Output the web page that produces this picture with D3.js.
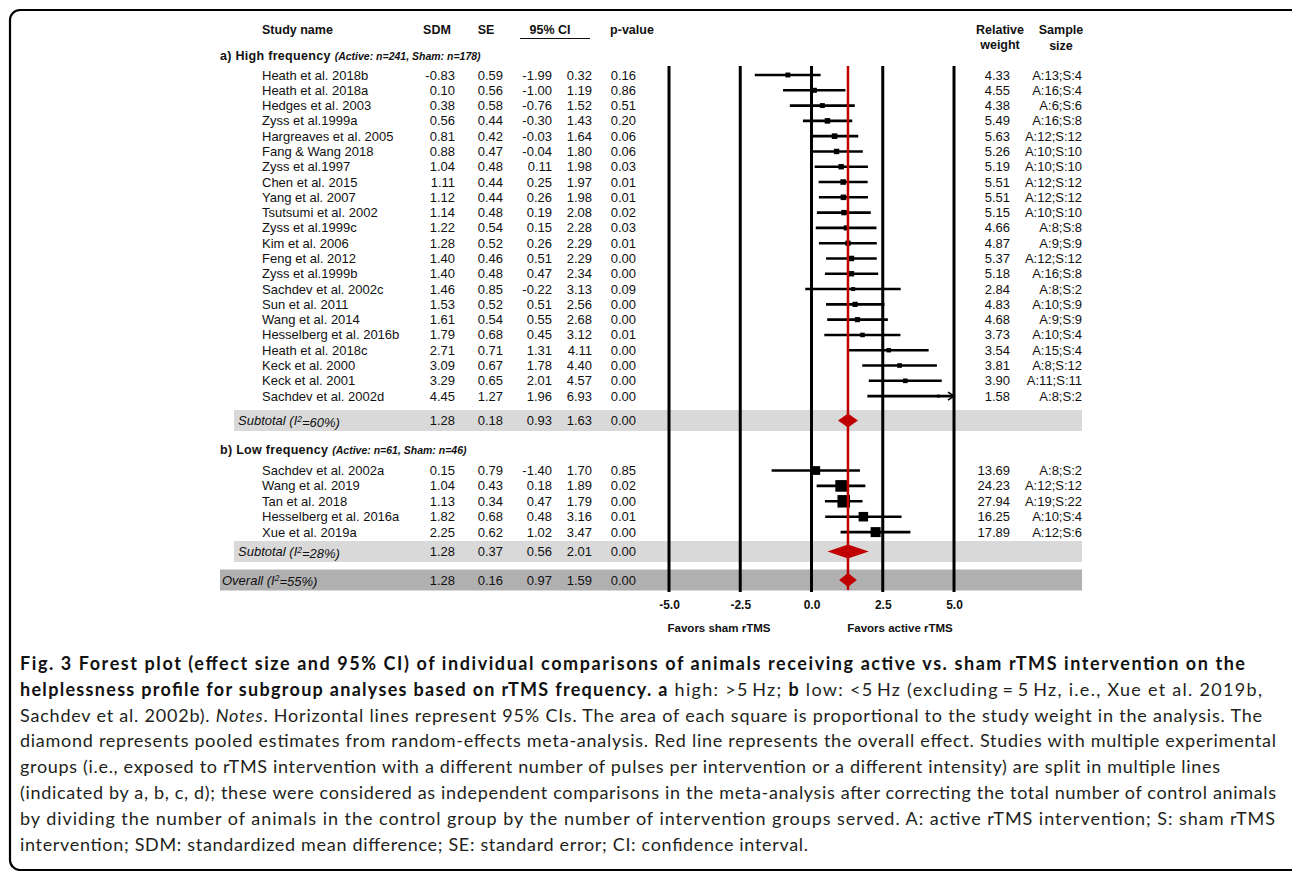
<!DOCTYPE html>
<html>
<head>
<meta charset="utf-8">
<script src="https://cdn.jsdelivr.net/npm/d3@7.9.0/dist/d3.min.js"></script>
<style>
  body { margin: 0; background: #fff; }
  svg { display: block; }
  .tbl { font-family: "Liberation Sans", Arial, sans-serif; font-size: 13px; fill: #111; }
  .hdr { font-family: "Liberation Sans", Arial, sans-serif; font-size: 12.5px; font-weight: bold; fill: #111; }
  .cap { font-family: Lato, sans-serif; font-size: 18px; fill: #231f20; }
</style>
</head>
<body>
<svg id="chart" width="1292" height="871"></svg>
<script>
// high frequency studies
const highStudies = ['Heath et al. 2018b', 'Heath et al. 2018a', 'Hedges et al. 2003', 'Zyss et al.1999a',
  'Hargreaves et al. 2005', 'Fang & Wang 2018', 'Zyss et al.1997', 'Chen et al. 2015', 'Yang et al. 2007',
  'Tsutsumi et al. 2002', 'Zyss et al.1999c', 'Kim et al. 2006', 'Feng et al. 2012', 'Zyss et al.1999b',
  'Sachdev et al. 2002c', 'Sun et al. 2011', 'Wang et al. 2014', 'Hesselberg et al. 2016b', 'Heath et al. 2018c',
  'Keck et al. 2000', 'Keck et al. 2001', 'Sachdev et al. 2002d'];
const highSdm = [-0.83, 0.10, 0.38, 0.56, 0.81, 0.88, 1.04, 1.11, 1.12, 1.14, 1.22, 1.28, 1.40, 1.40, 1.46, 1.53, 1.61, 1.79, 2.71, 3.09, 3.29, 4.45];
const highSe = [0.59, 0.56, 0.58, 0.44, 0.42, 0.47, 0.48, 0.44, 0.44, 0.48, 0.54, 0.52, 0.46, 0.48, 0.85, 0.52, 0.54, 0.68, 0.71, 0.67, 0.65, 1.27];
const highLo = [-1.99, -1.00, -0.76, -0.30, -0.03, -0.04, 0.11, 0.25, 0.26, 0.19, 0.15, 0.26, 0.51, 0.47, -0.22, 0.51, 0.55, 0.45, 1.31, 1.78, 2.01, 1.96];
const highHi = [0.32, 1.19, 1.52, 1.43, 1.64, 1.80, 1.98, 1.97, 1.98, 2.08, 2.28, 2.29, 2.29, 2.34, 3.13, 2.56, 2.68, 3.12, 4.11, 4.40, 4.57, 6.93];
const highP = [0.16, 0.86, 0.51, 0.20, 0.06, 0.06, 0.03, 0.01, 0.01, 0.02, 0.03, 0.01, 0.00, 0.00, 0.09, 0.00, 0.00, 0.01, 0.00, 0.00, 0.00, 0.00];
const highWeight = [4.33, 4.55, 4.38, 5.49, 5.63, 5.26, 5.19, 5.51, 5.51, 5.15, 4.66, 4.87, 5.37, 5.18, 2.84, 4.83, 4.68, 3.73, 3.54, 3.81, 3.90, 1.58];
const highSample = ['A:13;S:4', 'A:16;S:4', 'A:6;S:6', 'A:16;S:8', 'A:12;S:12', 'A:10;S:10', 'A:10;S:10', 'A:12;S:12',
  'A:12;S:12', 'A:10;S:10', 'A:8;S:8', 'A:9;S:9', 'A:12;S:12', 'A:16;S:8', 'A:8;S:2', 'A:10;S:9', 'A:9;S:9',
  'A:10;S:4', 'A:15;S:4', 'A:8;S:12', 'A:11;S:11', 'A:8;S:2'];

// low frequency studies
const lowStudies = ['Sachdev et al. 2002a', 'Wang et al. 2019', 'Tan et al. 2018', 'Hesselberg et al. 2016a', 'Xue et al. 2019a'];
const lowSdm = [0.15, 1.04, 1.13, 1.82, 2.25];
const lowSe = [0.79, 0.43, 0.34, 0.68, 0.62];
const lowLo = [-1.40, 0.18, 0.47, 0.48, 1.02];
const lowHi = [1.70, 1.89, 1.79, 3.16, 3.47];
const lowP = [0.85, 0.02, 0.00, 0.01, 0.00];
const lowWeight = [13.69, 24.23, 27.94, 16.25, 17.89];
const lowSample = ['A:8;S:2', 'A:12;S:12', 'A:19;S:22', 'A:10;S:4', 'A:12;S:6'];

// pooled estimates: subtotal a, subtotal b, overall
const pooledI2 = ['60%', '28%', '55%'];
const pooledSdm = [1.28, 1.28, 1.28];
const pooledSe = [0.18, 0.37, 0.16];
const pooledLo = [0.93, 0.56, 0.97];
const pooledHi = [1.63, 2.01, 1.59];
const pooledP = [0.00, 0.00, 0.00];

const xTicks = [-5, -2.5, 0, 2.5, 5];
const overallEffect = 1.28;

const svg = d3.select('#chart');
const x = d3.scaleLinear().domain([-5, 5]).range([669, 954]);
const boxSize = d3.scaleSqrt().domain([0, 28]).range([0, 12.5]);
const f2 = v => v.toFixed(2);

// frame
svg.append('rect')
  .attr('x', 10).attr('y', 10).attr('width', 1290).attr('height', 860)
  .attr('rx', 10).attr('fill', 'none').attr('stroke', '#000').attr('stroke-width', 2.2);

const highRows = highStudies.map((name, i) => ({
  name, sdm: highSdm[i], se: highSe[i], lo: highLo[i], hi: highHi[i], p: highP[i],
  w: highWeight[i], n: highSample[i], y: 75 + i * 15.29
}));
const lowRows = lowStudies.map((name, i) => ({
  name, sdm: lowSdm[i], se: lowSe[i], lo: lowLo[i], hi: lowHi[i], p: lowP[i],
  w: lowWeight[i], n: lowSample[i], y: 470.5 + i * 15.4
}));
const pooled = pooledI2.map((i2, i) => ({
  label: i === 2 ? 'Overall' : 'Subtotal', i2, sdm: pooledSdm[i], se: pooledSe[i],
  lo: pooledLo[i], hi: pooledHi[i], p: pooledP[i],
  y: [420.5, 551.5, 580][i], x0: i === 2 ? 220 : 234, fill: i === 2 ? '#b1b0b1' : '#d9d9d9',
  textX: i === 2 ? 222 : 238, halfH: 10.5
}));

// bands
svg.selectAll('rect.band').data(pooled).join('rect')
  .attr('class', 'band')
  .attr('x', d => d.x0).attr('y', d => d.y - d.halfH)
  .attr('width', d => 1082 - d.x0).attr('height', d => d.halfH * 2)
  .attr('fill', d => d.fill);

// headers
const hdr = svg.append('g').attr('class', 'hdr');
hdr.append('text').attr('x', 262).attr('y', 34).text('Study name');
hdr.append('text').attr('x', 437).attr('y', 34).attr('text-anchor', 'middle').text('SDM');
hdr.append('text').attr('x', 486).attr('y', 34).attr('text-anchor', 'middle').text('SE');
hdr.append('text').attr('x', 550).attr('y', 34).attr('text-anchor', 'middle').text('95% CI');
hdr.append('line').attr('x1', 520).attr('x2', 590).attr('y1', 38.5).attr('y2', 38.5)
  .attr('stroke', '#111').attr('stroke-width', 1.2);
hdr.append('text').attr('x', 632).attr('y', 34).attr('text-anchor', 'middle').text('p-value');
hdr.append('text').attr('x', 1000).attr('y', 34).attr('text-anchor', 'middle').text('Relative');
hdr.append('text').attr('x', 1000).attr('y', 49).attr('text-anchor', 'middle').text('weight');
hdr.append('text').attr('x', 1061).attr('y', 34).attr('text-anchor', 'middle').text('Sample');
hdr.append('text').attr('x', 1061).attr('y', 50).attr('text-anchor', 'middle').text('size');

function section(label, note, y) {
  const t = svg.append('text').attr('class', 'hdr').attr('x', 220).attr('y', y).attr('dy', '0.35em')
    .style('font-size', '12.5px').style('letter-spacing', '0.3px');
  t.append('tspan').text(label);
  t.append('tspan').attr('dx', 4).style('font-size', '10.5px').style('letter-spacing', '0px')
    .style('font-style', 'italic').text(note);
}
section('a) High frequency', '(Active: n=241, Sham: n=178)', 56);
section('b) Low frequency', '(Active: n=61, Sham: n=46)', 450);

// numeric columns
const cols = [
  { x: 455, v: d => f2(d.sdm) },
  { x: 503, v: d => f2(d.se) },
  { x: 552, v: d => f2(d.lo) },
  { x: 592, v: d => f2(d.hi) },
  { x: 636, v: d => f2(d.p) }
];
const studies = highRows.concat(lowRows);
const tbl = svg.append('g').attr('class', 'tbl');
tbl.selectAll('text.name').data(studies).join('text')
  .attr('class', 'name').attr('x', 262).attr('y', d => d.y).attr('dy', '0.35em').text(d => d.name);
cols.forEach(c => {
  tbl.selectAll(null).data(studies.concat(pooled)).join('text')
    .attr('x', c.x).attr('y', d => d.y).attr('dy', '0.35em').attr('text-anchor', 'end').text(c.v);
});
tbl.selectAll('text.w').data(studies).join('text')
  .attr('class', 'w').attr('x', 1010).attr('y', d => d.y).attr('dy', '0.35em')
  .attr('text-anchor', 'end').text(d => f2(d.w));
tbl.selectAll('text.n').data(studies).join('text')
  .attr('class', 'n').attr('x', 1082).attr('y', d => d.y).attr('dy', '0.35em')
  .attr('text-anchor', 'end').text(d => d.n);
const pl = tbl.selectAll('text.pl').data(pooled).join('text')
  .attr('class', 'pl').attr('x', d => d.textX).attr('y', d => d.y).attr('dy', '0.35em')
  .style('font-style', 'italic');
pl.append('tspan').text(d => d.label + ' (I');
pl.append('tspan').attr('dy', '-0.4em').style('font-size', '8.5px').text('2');
pl.append('tspan').attr('dy', '0.4em').text(d => '=' + d.i2 + ')');

// reference lines
svg.append('g').selectAll('line').data(xTicks).join('line')
  .attr('x1', d => x(d)).attr('x2', d => x(d))
  .attr('y1', 66).attr('y2', 592)
  .attr('stroke', '#000').attr('stroke-width', 3);

// CI lines
const ci = svg.append('g');
ci.selectAll('line').data(studies).join('line')
  .attr('x1', d => x(Math.max(d.lo, -5))).attr('x2', d => x(Math.min(d.hi, 5)))
  .attr('y1', d => d.y).attr('y2', d => d.y)
  .attr('stroke', '#000').attr('stroke-width', 2.6);
// arrow for clipped CI
ci.selectAll('path.arrow').data(studies.filter(d => d.hi > 5)).join('path')
  .attr('class', 'arrow')
  .attr('d', d => `M${x(5) - 6},${d.y - 4}L${x(5)},${d.y}L${x(5) - 6},${d.y + 4}`)
  .attr('fill', 'none').attr('stroke', '#000').attr('stroke-width', 1.6);
ci.selectAll('rect').data(studies).join('rect')
  .attr('x', d => x(d.sdm) - boxSize(d.w) / 2)
  .attr('y', d => d.y - boxSize(d.w) / 2)
  .attr('width', d => boxSize(d.w)).attr('height', d => boxSize(d.w))
  .attr('fill', '#000');

// overall effect line
svg.append('line')
  .attr('x1', x(overallEffect)).attr('x2', x(overallEffect))
  .attr('y1', 66).attr('y2', 590)
  .attr('stroke', '#c00000').attr('stroke-width', 2.5);

// diamonds
svg.selectAll('path.dia').data(pooled).join('path')
  .attr('class', 'dia')
  .attr('d', d => `M${x(d.lo)},${d.y}L${x(d.sdm)},${d.y - 7}L${x(d.hi)},${d.y}L${x(d.sdm)},${d.y + 7}Z`)
  .attr('fill', '#c00000');

// axis
const axis = svg.append('g').attr('transform', 'translate(0,598)')
  .call(d3.axisBottom(x).tickValues(xTicks).tickSize(0).tickPadding(2).tickFormat(d => d.toFixed(1)));
axis.select('.domain').remove();
axis.selectAll('text')
  .attr('font-family', '"Liberation Sans", Arial, sans-serif')
  .attr('font-size', '12px').attr('font-weight', 'bold').attr('fill', '#111');

svg.append('text').attr('class', 'hdr').attr('x', 719).attr('y', 632).attr('text-anchor', 'middle')
  .style('font-size', '11.5px').text('Favors sham rTMS');
svg.append('text').attr('class', 'hdr').attr('x', 900).attr('y', 632).attr('text-anchor', 'middle')
  .style('font-size', '11.5px').text('Favors active rTMS');

// caption
const capLines = [
  { w: 1225, parts: [['b', 'Fig. 3 Forest plot (effect size and 95% CI) of individual comparisons of animals receiving active vs. sham rTMS intervention on the']] },
  { w: 1242, parts: [['b', 'helplessness profile for subgroup analyses based on rTMS frequency. a'], ['r', ' high: >5\u2009Hz; '], ['b', 'b'], ['r', ' low: <5\u2009Hz (excluding\u2009=\u20095\u2009Hz, i.e., Xue et al. 2019b,']] },
  { w: 1242, parts: [['r', 'Sachdev et al. 2002b). '], ['i', 'Notes'], ['r', '. Horizontal lines represent 95% CIs. The area of each square is proportional to the study weight in the analysis. The']] },
  { w: 1256, parts: [['r', 'diamond represents pooled estimates from random-effects meta-analysis. Red line represents the overall effect. Studies with multiple experimental']] },
  { w: 1200, parts: [['r', 'groups (i.e., exposed to rTMS intervention with a different number of pulses per intervention or a different intensity) are split in multiple lines']] },
  { w: 1256, parts: [['r', '(indicated by a, b, c, d); these were considered as independent comparisons in the meta-analysis after correcting the total number of control animals']] },
  { w: 1255, parts: [['r', 'by dividing the number of animals in the control group by the number of intervention groups served. A: active rTMS intervention; S: sham rTMS']] },
  { w: 788, parts: [['r', 'intervention; SDM: standardized mean difference; SE: standard error; CI: confidence interval.']] }
];
capLines.forEach((line, i) => {
  const t = svg.append('text').attr('class', 'cap')
    .attr('x', 20).attr('y', 670 + i * 25.8)
    .attr('textLength', line.w).attr('lengthAdjust', 'spacing');
  line.parts.forEach(([s, txt]) => {
    const sp = t.append('tspan').text(txt);
    if (s === 'b') sp.style('font-weight', 'bold').style('fill', '#111');
    if (s === 'i') sp.style('font-style', 'italic');
  });
});
</script>
</body>
</html>
